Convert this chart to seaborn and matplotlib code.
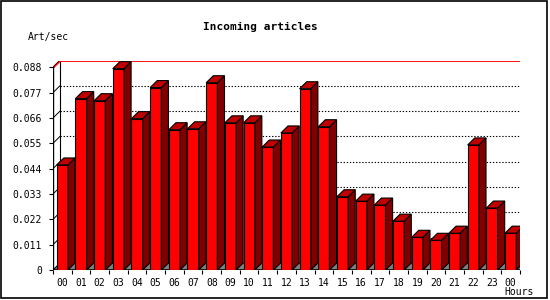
import numpy as np
import pandas as pd
import matplotlib
matplotlib.use("Agg")
import matplotlib.pyplot as plt
import seaborn as sns
from matplotlib.patches import Polygon, Rectangle

# values (articles per second, per hour)
hours = ["00", "01", "02", "03", "04", "05", "06", "07", "08", "09", "10", "11",
         "12", "13", "14", "15", "16", "17", "18", "19", "20", "21", "22", "23", "00"]
art_per_sec = [0.0456, 0.0744, 0.0735, 0.0874, 0.0657, 0.0792, 0.0609, 0.0613,
               0.0813, 0.0639, 0.0639, 0.0534, 0.0595, 0.0787, 0.0622, 0.0318,
               0.0299, 0.0282, 0.0212, 0.0142, 0.0129, 0.0160, 0.0543, 0.0269, 0.0160]
y_ticks = [0, 0.011, 0.022, 0.033, 0.044, 0.055, 0.066, 0.077, 0.088]

df = pd.DataFrame({"pos": np.arange(len(hours)), "val": art_per_sec})

plt.rcParams['font.family'] = ['DejaVu Sans Mono']

W, H = 550, 300
fig = plt.figure(figsize=(5.5, 3), dpi=100)
# axes in pixel terms: left 53, right 520, bottom 270, top 60.5
ax = fig.add_axes([53 / W, 30 / H, 467 / W, 209.5 / H])

depth_px = 7
slot_px = 467 / (len(hours) + depth_px / 18.4)
dx = depth_px / slot_px
ymax = 0.088 * 209.5 / 202.7
dy = depth_px * ymax / 209.5
xl, xr = -0.5, len(hours) - 0.5
ax.set_xlim(xl, xr + dx)
ax.set_ylim(0, ymax)

sns.barplot(data=df, x="pos", y="val", color="#ff0000", saturation=1, width=0.6,
            edgecolor="black", linewidth=0.8, ax=ax, zorder=3)

# floor
ax.add_patch(Polygon([(xl, 0), (xr, 0), (xr + dx, dy), (xl + dx, dy)], closed=True,
                     facecolor="#808080", edgecolor="black", lw=0.8, zorder=1))

# back grid lines + small slanted stubs on the left
for t in y_ticks[1:-1]:
    ax.plot([xl + dx, xr + dx], [t + dy, t + dy], color="black", lw=0.8,
            linestyle=(0, (1.2, 1.6)), zorder=1.5)
    ax.plot([xl, xl + dx], [t, t + dy], color="black", lw=0.7, zorder=1.5)

# back walls and top
top = 0.088
ax.plot([xl + dx, xl + dx], [dy, top + dy], color="black", lw=0.8, zorder=1.5)
ax.plot([xr + dx, xr + dx], [dy, top + dy], color="black", lw=1.0, zorder=1.5)
ax.plot([xl, xl], [0, top], color="black", lw=1.0, zorder=4)
ax.plot([xl, xl + dx, xr + dx], [top, top + dy, top + dy], color="black", lw=1.0, zorder=1.6)
ax.plot([xl, xl + dx, xr + dx], [top - 0.0004, top + dy - 0.0004, top + dy - 0.0004],
        color="#ff0000", lw=1.0, zorder=1.7)
ax.plot([xl, xr, xr + dx], [0, 0, dy], color="black", lw=0.8, zorder=1.2)

# 3d tops and sides of the bars
for p in ax.patches:
    if not isinstance(p, Rectangle):
        continue
    x0, w, h = p.get_x(), p.get_width(), p.get_height()
    ax.add_patch(Polygon([(x0 + w, 0), (x0 + w + dx, dy), (x0 + w + dx, h + dy), (x0 + w, h)],
                         closed=True, facecolor="#800000", edgecolor="black", lw=0.8, zorder=3.1))
    ax.add_patch(Polygon([(x0, h), (x0 + w, h), (x0 + w + dx, h + dy), (x0 + dx, h + dy)],
                         closed=True, facecolor="#c00000", edgecolor="black", lw=0.8, zorder=3.1))

for s in ax.spines.values():
    s.set_visible(False)

ax.set_yticks(y_ticks)
ax.set_yticklabels(["0"] + ["%.3f" % t for t in y_ticks[1:]])
ax.set_xticks(df["pos"])
ax.set_xticklabels(hours)
ax.set_xticks(np.arange(len(hours) + 1) - 0.5, minor=True)
ax.tick_params(axis="y", length=3, width=0.8, pad=5, labelsize=7)
ax.tick_params(axis="x", which="major", length=0, pad=6, labelsize=7)
ax.tick_params(axis="x", which="minor", length=3, width=0.8)
ax.set_xlabel("")
ax.set_ylabel("")

fig.text(260 / W, 1 - 27 / H, "Incoming articles", ha="center", va="center",
         fontsize=8, fontweight="bold")
fig.text(28 / W, 1 - 37 / H, "Art/sec", ha="left", va="center", fontsize=7)
fig.text(534 / W, 1 - 292 / H, "Hours", ha="right", va="center", fontsize=7)

fig.add_artist(Rectangle((0.5 / W, 2 / H), 546 / W, 297.5 / H, transform=fig.transFigure,
                         fill=False, edgecolor="black", lw=1.2))

fig.savefig("out.png", dpi=100)
